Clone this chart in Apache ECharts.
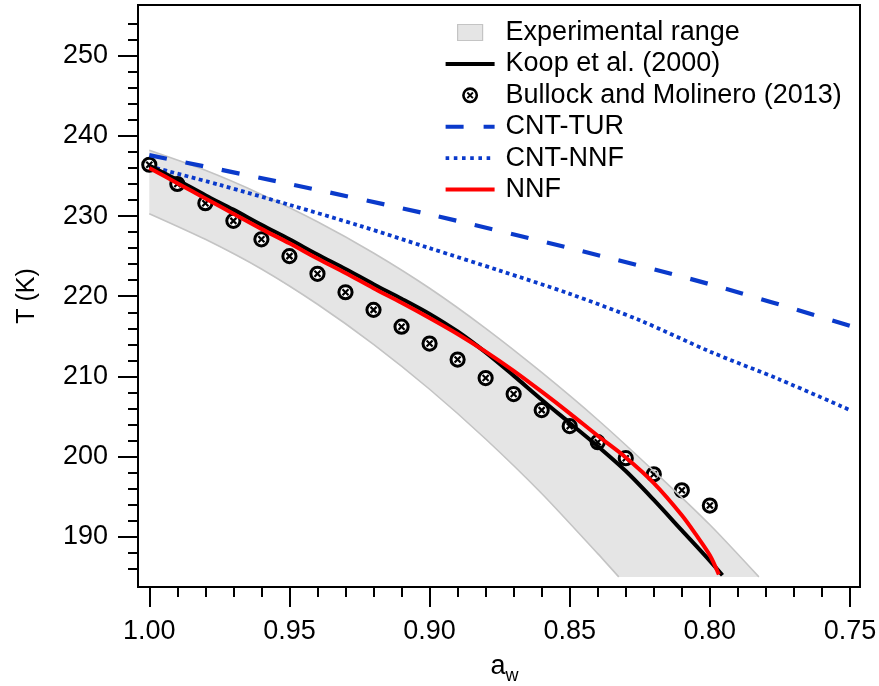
<!DOCTYPE html>
<html>
<head>
<meta charset="utf-8">
<script src="https://cdn.jsdelivr.net/npm/echarts@6/dist/echarts.min.js"></script>
<style>
  html, body { margin: 0; padding: 0; background: #fff; }
  #chart { width: 879px; height: 686px; }
</style>
</head>
<body>
<div id="chart"></div>
<script>
// tick values
const xMajor = [1.00, 0.95, 0.90, 0.85, 0.80, 0.75];
const xMinor = [0.99, 0.98, 0.97, 0.96, 0.94, 0.93, 0.92, 0.91, 0.89, 0.88, 0.87, 0.86,
                0.84, 0.83, 0.82, 0.81, 0.79, 0.78, 0.77, 0.76];
const yMajor = [190, 200, 210, 220, 230, 240, 250];
const yMinor = [186, 188, 192, 194, 196, 198, 202, 204, 206, 208, 212, 214, 216, 218,
                222, 224, 226, 228, 232, 234, 236, 238, 242, 244, 246, 248, 252, 254];

// experimental range (upper / lower edge)
const awUpper = [1.00, 0.98, 0.96, 0.94, 0.92, 0.90, 0.88, 0.86, 0.84, 0.82, 0.80, 0.7825];
const tUpper  = [238.2, 235.7, 232.7, 229.3, 225.4, 221.0, 216.0, 210.5, 204.6, 198.2, 191.5, 185.0];
const awLower = [1.00, 0.98, 0.96, 0.94, 0.92, 0.90, 0.88, 0.86, 0.84, 0.8325];
const tLower  = [230.3, 227.1, 223.4, 219.0, 214.0, 208.4, 202.2, 195.4, 187.9, 185.0];

// Koop et al. (2000)
const awKoop = [1.00, 0.99, 0.98, 0.97, 0.96, 0.95, 0.94, 0.93, 0.92, 0.91, 0.90, 0.89,
                0.88, 0.87, 0.86, 0.85, 0.84, 0.83, 0.82, 0.81, 0.80, 0.7955];
const tKoop  = [236.3, 234.5, 232.6, 230.8, 228.9, 227.1, 225.2, 223.4, 221.5, 219.7, 217.8, 215.6,
                213.0, 210.1, 207.1, 204.2, 201.3, 198.2, 194.6, 190.8, 187.0, 185.2];

// Bullock and Molinero (2013)
const awBullock = [1.00, 0.99, 0.98, 0.97, 0.96, 0.95, 0.94, 0.93, 0.92, 0.91, 0.90,
                   0.89, 0.88, 0.87, 0.86, 0.85, 0.84, 0.83, 0.82, 0.81, 0.80];
const tBullock  = [236.4, 234.0, 231.6, 229.4, 227.1, 225.0, 222.8, 220.5, 218.3, 216.2, 214.1,
                   212.1, 209.8, 207.8, 205.8, 203.8, 201.8, 199.8, 197.8, 195.8, 193.9];

// CNT-TUR
const awTur = [1.00, 0.95, 0.90, 0.85, 0.80, 0.75];
const tTur  = [237.6, 234.0, 230.2, 226.0, 221.5, 216.3];

// CNT-NNF
const awCntNnf = [1.00, 0.975, 0.95, 0.925, 0.90, 0.875, 0.85, 0.825, 0.80, 0.775, 0.75];
const tCntNnf  = [236.2, 233.9, 231.4, 228.8, 226.0, 223.2, 220.3, 217.0, 213.1, 209.6, 205.8];

// NNF
const awNnf = [1.00, 0.99, 0.98, 0.97, 0.96, 0.95, 0.94, 0.93, 0.92, 0.91, 0.90, 0.89,
               0.88, 0.87, 0.86, 0.85, 0.84, 0.83, 0.82, 0.81, 0.805, 0.80, 0.7968];
const tNnf  = [236.0, 234.1, 232.2, 230.3, 228.4, 226.6, 224.7, 222.9, 221.0, 219.2, 217.3, 215.3,
               213.1, 210.7, 208.1, 205.4, 202.6, 199.9, 196.7, 192.7, 190.3, 187.7, 185.3];

const FONT = '"Liberation Sans", Arial, sans-serif';
const BLUE = '#0a3acb';

const pairs = (xs, ys) => xs.map((x, i) => [x, ys[i]]);
const bandPoints = pairs(awUpper, tUpper).concat(pairs(awLower, tLower).reverse());

// legend icons, all on a 49 x 16 box
const BOX = 'M0 0M49 16';
const iconRange = 'path://' + BOX + 'M12 0H37V16H12Z';
const iconSolid = 'path://' + BOX + 'M0 6H49V10H0Z';
const iconDash = 'path://' + BOX + 'M0 6H18V10H0ZM38 6H49V10H38Z';
const iconDot = 'path://' + BOX + [0, 8.2, 16.4, 24.6, 32.8, 41]
  .map(x => `M${x} 6.2H${x + 3.6}V9.8H${x}Z`).join('');
const iconMarker = (() => {
  const o = 16.5;
  const f = (x, y) => `${(x + o).toFixed(3)} ${y}`;
  return 'path://' + BOX +
    `M${f(16, 8)}A8 8 0 1 1 ${f(0, 8)}A8 8 0 1 1 ${f(16, 8)}Z` +
    `M${f(13.4, 8)}A5.4 5.4 0 1 0 ${f(2.6, 8)}A5.4 5.4 0 1 0 ${f(13.4, 8)}Z` +
    `M${f(5.836, 4.564)}L${f(11.436, 10.164)}L${f(10.164, 11.436)}L${f(4.564, 5.836)}Z` +
    `M${f(5.836, 11.436)}L${f(4.564, 10.164)}L${f(10.164, 4.564)}L${f(11.436, 5.836)}Z`;
})();

const chart = echarts.init(document.getElementById('chart'));

const xBase = { type: 'value', min: 0.74643, max: 1.00403, inverse: true, position: 'bottom' };
const yBase = { type: 'value', min: 183.74, max: 256.32, position: 'left' };

const option = {
  animation: false,
  textStyle: { fontFamily: FONT },
  grid: {
    left: 138, right: 19, top: 5, bottom: 99,
    outerBoundsMode: 'none', containLabel: false,
    show: true, borderColor: '#000', borderWidth: 2, backgroundColor: 'transparent'
  },
  legend: {
    orient: 'vertical', left: 445, top: 19, padding: 0,
    itemWidth: 49, itemHeight: 16, itemGap: 4.4,
    selectedMode: false,
    textStyle: { fontSize: 27, color: '#000', fontFamily: FONT, padding: [0, 0, 0, 6] },
    data: [
      { name: 'Experimental range', icon: iconRange,
        itemStyle: { color: '#e5e5e5', borderColor: '#c4c4c4', borderWidth: 1.2 } },
      { name: 'Koop et al. (2000)', icon: iconSolid, itemStyle: { color: '#000', borderWidth: 0 } },
      { name: 'Bullock and Molinero (2013)', icon: iconMarker, itemStyle: { color: '#000', borderWidth: 0 } },
      { name: 'CNT-TUR', icon: iconDash, itemStyle: { color: BLUE, borderWidth: 0 } },
      { name: 'CNT-NNF', icon: iconDot, itemStyle: { color: BLUE, borderWidth: 0 } },
      { name: 'NNF', icon: iconSolid, itemStyle: { color: '#ff0000', borderWidth: 0 } }
    ]
  },
  xAxis: [
    Object.assign({}, xBase, {
      name: '{a|a}{w|w}',
      nameLocation: 'middle',
      nameGap: 66,
      nameTextStyle: {
        padding: [0, 0, 0, 11],
        rich: {
          a: { fontSize: 27, color: '#000', fontFamily: FONT, verticalAlign: 'top' },
          w: { fontSize: 18, color: '#000', fontFamily: FONT, padding: [14, 0, 0, 0], verticalAlign: 'bottom' }
        }
      },
      axisLine: { show: true, lineStyle: { color: '#000', width: 2 } },
      axisTick: { show: true, customValues: xMajor, length: 20, lineStyle: { color: '#000', width: 2 } },
      axisLabel: { customValues: xMajor, fontSize: 27, color: '#000', margin: 31,
                   formatter: v => v.toFixed(2) },
      splitLine: { show: false }
    }),
    Object.assign({}, xBase, {
      axisLine: { show: false },
      axisTick: { show: true, customValues: xMinor, length: 10, lineStyle: { color: '#000', width: 2 } },
      axisLabel: { show: false },
      splitLine: { show: false }
    })
  ],
  yAxis: [
    Object.assign({}, yBase, {
      name: 'T (K)',
      nameLocation: 'middle',
      nameGap: 98,
      nameTextStyle: { fontSize: 25, color: '#000', fontFamily: FONT },
      axisLine: { show: true, lineStyle: { color: '#000', width: 2 } },
      axisTick: { show: true, customValues: yMajor, length: 20, lineStyle: { color: '#000', width: 2 } },
      axisLabel: { customValues: yMajor, fontSize: 27, color: '#000', margin: 30 },
      splitLine: { show: false }
    }),
    Object.assign({}, yBase, {
      axisLine: { show: false },
      axisTick: { show: true, customValues: yMinor, length: 10, lineStyle: { color: '#000', width: 2 } },
      axisLabel: { show: false },
      splitLine: { show: false }
    })
  ],
  series: [
    {
      name: 'Experimental range',
      type: 'custom',
      data: bandPoints,
      itemStyle: { color: '#e5e5e5' },
      renderItem: (params, api) => {
        if (params.dataIndex !== 0) return null;
        return {
          type: 'polygon',
          shape: { points: bandPoints.map(p => api.coord(p)), smooth: 0 },
          style: { fill: '#e5e5e5' }
        };
      }
    },
    {
      name: 'upper', type: 'line', data: pairs(awUpper, tUpper), symbol: 'none', smooth: 0.25,
      lineStyle: { color: '#c4c4c4', width: 1.6 }, silent: true
    },
    {
      name: 'lower', type: 'line', data: pairs(awLower, tLower), symbol: 'none', smooth: 0.25,
      lineStyle: { color: '#c4c4c4', width: 1.6 }, silent: true
    },
    {
      name: 'CNT-TUR', type: 'line', data: pairs(awTur, tTur), symbol: 'none', smooth: 0.3,
      itemStyle: { color: BLUE },
      lineStyle: { color: BLUE, width: 4.2, type: [18, 19], cap: 'butt' }
    },
    {
      name: 'CNT-NNF', type: 'line', data: pairs(awCntNnf, tCntNnf), symbol: 'none', smooth: 0.3,
      itemStyle: { color: BLUE },
      lineStyle: { color: BLUE, width: 3.8, type: [3.8, 3.5], cap: 'butt' }
    },
    {
      name: 'Koop et al. (2000)', type: 'line', data: pairs(awKoop, tKoop), symbol: 'none', smooth: 0.3,
      itemStyle: { color: '#000' },
      lineStyle: { color: '#000', width: 4 }
    },
    {
      name: 'NNF', type: 'line', data: pairs(awNnf, tNnf), symbol: 'none', smooth: 0.3,
      itemStyle: { color: '#ff0000' },
      lineStyle: { color: '#ff0000', width: 4 }
    },
    {
      name: 'Bullock and Molinero (2013)',
      type: 'custom',
      data: pairs(awBullock, tBullock),
      itemStyle: { color: '#000' },
      renderItem: (params, api) => {
        const p = api.coord([api.value(0), api.value(1)]);
        const a = 3.0;
        return {
          type: 'group',
          children: [
            { type: 'circle', shape: { cx: p[0], cy: p[1], r: 6.6 },
              style: { fill: '#fff', stroke: '#000', lineWidth: 3 } },
            { type: 'line', shape: { x1: p[0] - a, y1: p[1] - a, x2: p[0] + a, y2: p[1] + a },
              style: { stroke: '#000', lineWidth: 2.2 } },
            { type: 'line', shape: { x1: p[0] - a, y1: p[1] + a, x2: p[0] + a, y2: p[1] - a },
              style: { stroke: '#000', lineWidth: 2.2 } }
          ]
        };
      }
    }
  ]
};

chart.setOption(option);
window.addEventListener('resize', () => chart.resize());
</script>
</body>
</html>
